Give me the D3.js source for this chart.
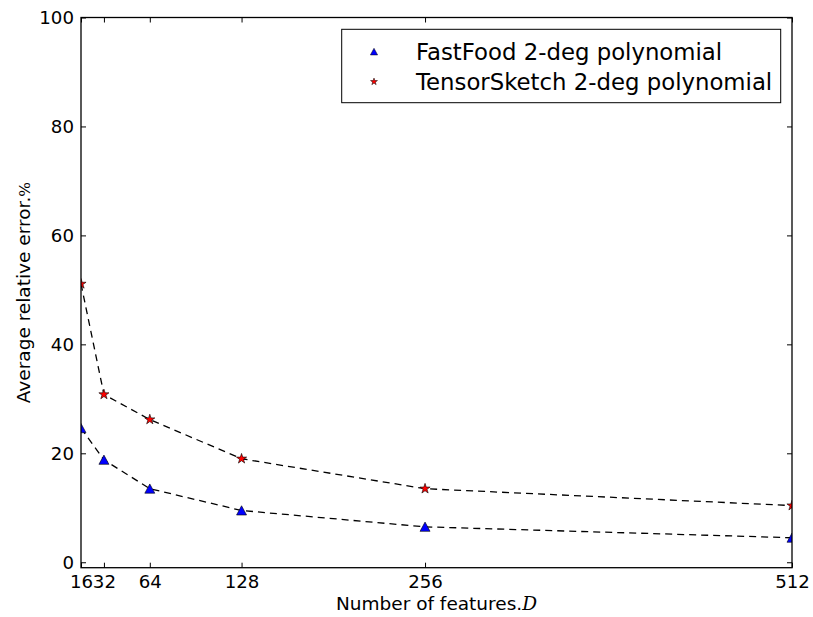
<!DOCTYPE html>
<html>
<head>
<meta charset="utf-8">
<script src="https://cdn.jsdelivr.net/npm/d3@7"></script>
<style>
  html, body { margin: 0; padding: 0; background: #fff; }
  svg { display: block; }
  text { font-family: "DejaVu Sans", sans-serif; fill: #000; }
</style>
</head>
<body>
<svg id="chart" width="813" height="617"></svg>
<script>
// Number of random features D
const features = [16, 32, 64, 128, 256, 512];
// Average relative error (%) per method
const fastfoodError = [24.6, 18.8, 13.5, 9.5, 6.5, 4.5];
const tensorSketchError = [51.1, 30.8, 26.2, 19.0, 13.5, 10.4];
const seriesNames = ["FastFood 2-deg polynomial", "TensorSketch 2-deg polynomial"];
const xTickValues = [16, 32, 64, 128, 256, 512];
const yTickValues = [0, 20, 40, 60, 80, 100];

const svg = d3.select("#chart");
const W = 813, H = 617;
const m = { left: 81, right: W - 792, top: 17.5, bottom: H - 567.7 };
const iw = W - m.left - m.right, ih = H - m.top - m.bottom;

svg.append("rect").attr("width", W).attr("height", H).attr("fill", "#fff");

const x = d3.scaleLinear().domain([16, 512]).range([m.left, m.left + iw]);
const y = d3.scaleLinear().domain([-1, 100]).range([m.top + ih, m.top]);

const g = svg.append("g");

// dashed connecting lines
const line = d3.line().x(d => x(d[0])).y(d => y(d[1]));
const series = [
  { name: seriesNames[0], values: fastfoodError, color: "#0000ff", shape: "tri" },
  { name: seriesNames[1], values: tensorSketchError, color: "#ff0000", shape: "star" }
];

svg.append("clipPath").attr("id", "plotclip")
  .append("rect").attr("x", m.left).attr("y", m.top).attr("width", iw).attr("height", ih);

// triangle: half-width s; star: symbol area s
const markerPath = (shape, s) => {
  if (shape === "tri") {
    const p = d3.path();
    p.moveTo(0, -s * 0.95); p.lineTo(-s, s * 0.9); p.lineTo(s, s * 0.9); p.closePath();
    return p.toString();
  }
  return d3.symbol(d3.symbolStar, s)();
};

series.forEach(s => {
  const pts = features.map((f, i) => [f, s.values[i]]);
  g.append("path")
    .attr("d", line(pts))
    .attr("fill", "none")
    .attr("stroke", "#000")
    .attr("stroke-width", 1.3)
    .attr("stroke-dasharray", "7,5")
    .attr("clip-path", "url(#plotclip)");
  g.append("g").attr("clip-path", "url(#plotclip)")
    .selectAll("path")
    .data(pts)
    .join("path")
    .attr("transform", d => `translate(${x(d[0])},${y(d[1])})`)
    .attr("d", markerPath(s.shape, s.shape === "tri" ? 5 : 32))
    .attr("fill", s.color)
    .attr("stroke", "#000")
    .attr("stroke-width", 0.6);
});

// axes: ticks point inward on all four sides
const fs = "18.2px";
const xBottom = svg.append("g").attr("transform", `translate(0,${m.top + ih})`)
  .call(d3.axisBottom(x).tickValues(xTickValues).tickFormat(d3.format("d")).tickSize(-5).tickPadding(7.5));
const xTop = svg.append("g").attr("transform", `translate(0,${m.top})`)
  .call(d3.axisTop(x).tickValues(xTickValues).tickFormat("").tickSize(-5));
const yLeft = svg.append("g").attr("transform", `translate(${m.left},0)`)
  .call(d3.axisLeft(y).tickValues(yTickValues).tickFormat(d3.format("d")).tickSize(-5).tickPadding(7));
const yRight = svg.append("g").attr("transform", `translate(${m.left + iw},0)`)
  .call(d3.axisRight(y).tickValues(yTickValues).tickFormat("").tickSize(-5));

[xBottom, xTop, yLeft, yRight].forEach(a => {
  a.select(".domain").remove();
  a.selectAll(".tick line").attr("stroke", "#000").attr("stroke-width", 1);
  a.selectAll(".tick text").style("font-family", "DejaVu Sans").style("font-size", fs).attr("fill", "#000");
});

// frame
svg.append("rect")
  .attr("x", m.left).attr("y", m.top).attr("width", iw).attr("height", ih)
  .attr("fill", "none").attr("stroke", "#000").attr("stroke-width", 1.3);

// axis titles
const xl = svg.append("text")
  .attr("x", m.left + iw / 2).attr("y", 610)
  .attr("text-anchor", "middle").style("font-size", "18.5px");
xl.append("tspan").text("Number of features.");
xl.append("tspan").style("font-family", "DejaVu Serif").style("font-style", "italic").text("D");

const yl = svg.append("text")
  .attr("transform", `translate(30,${m.top + ih / 2}) rotate(-90)`)
  .attr("text-anchor", "middle").style("font-size", "18.5px");
yl.append("tspan").text("Average relative error.");
yl.append("tspan").style("font-family", "DejaVu Serif").style("font-size", "15.5px").text("%");

// legend
const lg = svg.append("g");
lg.append("rect")
  .attr("x", 341.7).attr("y", 29.3).attr("width", 439).attr("height", 73.4)
  .attr("fill", "#fff").attr("stroke", "#000").attr("stroke-width", 1);
series.forEach((s, i) => {
  const cy = 51.7 + i * 30;
  lg.append("path")
    .attr("transform", `translate(374,${cy})`)
    .attr("d", markerPath(s.shape, s.shape === "tri" ? 3.6 : 15))
    .attr("fill", s.color).attr("stroke", "#000").attr("stroke-width", 0.5);
  lg.append("text")
    .attr("x", 416).attr("y", cy).attr("dy", "0.36em")
    .style("font-size", "22.8px")
    .text(s.name);
});
</script>
</body>
</html>
